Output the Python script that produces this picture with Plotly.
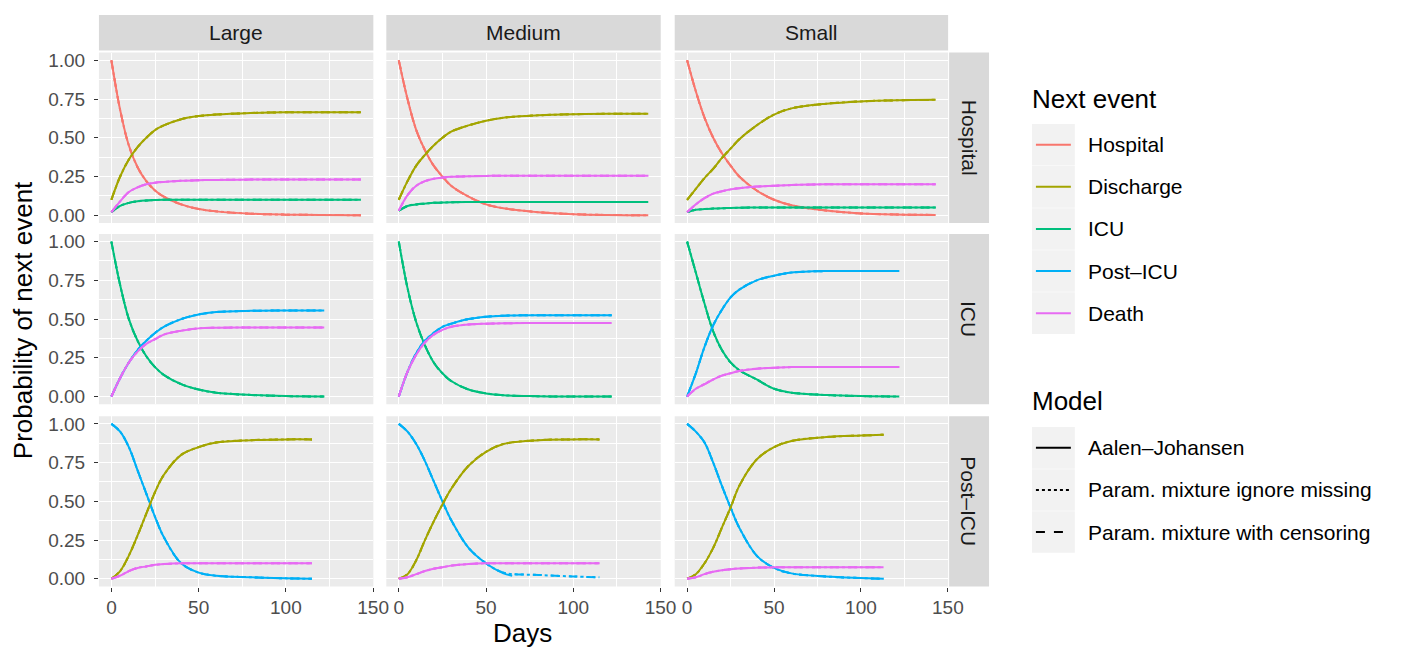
import plotly.graph_objects as go

W, H = 1405, 655
OFF = 8  # page body margin

sizes = ["Large", "Medium", "Small"]
states = ["Hospital", "ICU", "Post\u2013ICU"]
events = ["Hospital", "Discharge", "ICU", "Post\u2013ICU", "Death"]
models = ["Aalen\u2013Johansen", "Param. mixture ignore missing", "Param. mixture with censoring"]
colors = {"Hospital": "#F8766D", "Discharge": "#A3A500", "ICU": "#00BF7D",
          "Post\u2013ICU": "#00B0F6", "Death": "#E76BF3"}
dashes = {models[0]: "solid", models[1]: "dot", models[2]: "dash"}

# knot days per panel
days_hosp = [0, 5, 10, 15, 20, 25, 30, 40, 50, 60, 80, 100, 120, 143]
days_icu = [0, 5, 10, 15, 20, 25, 30, 40, 50, 60, 80, 100, 122]
days_post = [0, 5, 10, 15, 20, 25, 30, 40, 50, 60, 80, 100, 115]
days_post_s = [0, 5, 10, 15, 20, 25, 30, 40, 50, 60, 80, 100, 113]
days_med_post_aj = [0, 5, 10, 15, 20, 25, 30, 40, 50, 60, 65]

# Large
L_h_hosp = [1.0, 0.68, 0.45, 0.31, 0.22, 0.16, 0.12, 0.07, 0.04, 0.025, 0.01, 0.004, 0.002, 0.0]
L_h_dis = [0.1, 0.25, 0.36, 0.44, 0.50, 0.55, 0.58, 0.62, 0.64, 0.65, 0.66, 0.665, 0.665, 0.665]
L_h_icu = [0.02, 0.06, 0.08, 0.09, 0.095, 0.098, 0.1, 0.1, 0.1, 0.1, 0.1, 0.1, 0.1, 0.1]
L_h_death = [0.02, 0.09, 0.15, 0.18, 0.20, 0.21, 0.215, 0.222, 0.226, 0.228, 0.23, 0.23, 0.23, 0.23]
L_i_icu = [1.0, 0.72, 0.5, 0.36, 0.26, 0.19, 0.14, 0.08, 0.045, 0.025, 0.01, 0.003, 0.0]
L_i_post = [0.0, 0.12, 0.22, 0.3, 0.36, 0.41, 0.45, 0.5, 0.53, 0.545, 0.553, 0.555, 0.555]
L_i_death = [0.0, 0.12, 0.22, 0.29, 0.34, 0.37, 0.4, 0.425, 0.44, 0.444, 0.445, 0.445, 0.445]
L_p_post = [1.0, 0.95, 0.85, 0.7, 0.55, 0.4, 0.27, 0.1, 0.04, 0.02, 0.01, 0.003, 0.0]
L_p_dis = [0.0, 0.05, 0.15, 0.28, 0.42, 0.56, 0.67, 0.8, 0.85, 0.88, 0.895, 0.9, 0.9]
L_p_death = [0.0, 0.02, 0.05, 0.07, 0.08, 0.09, 0.095, 0.1, 0.1, 0.1, 0.1, 0.1, 0.1]

# Medium
M_h_hosp = [1.0, 0.75, 0.55, 0.42, 0.32, 0.25, 0.19, 0.12, 0.07, 0.045, 0.02, 0.007, 0.002, 0.0]
M_h_dis = [0.1, 0.22, 0.32, 0.39, 0.45, 0.5, 0.54, 0.58, 0.61, 0.63, 0.645, 0.652, 0.655, 0.655]
M_h_icu = [0.03, 0.06, 0.07, 0.075, 0.08, 0.082, 0.084, 0.085, 0.085, 0.085, 0.085, 0.085, 0.085, 0.085]
M_h_death = [0.03, 0.13, 0.19, 0.22, 0.235, 0.243, 0.248, 0.252, 0.254, 0.255, 0.255, 0.255, 0.255, 0.255]
M_i_icu = [1.0, 0.7, 0.48, 0.33, 0.22, 0.15, 0.1, 0.045, 0.02, 0.008, 0.002, 0.0, 0.0]
M_i_post = [0.0, 0.16, 0.28, 0.36, 0.41, 0.45, 0.47, 0.5, 0.515, 0.522, 0.525, 0.525, 0.525]
M_i_death = [0.0, 0.16, 0.27, 0.35, 0.4, 0.43, 0.45, 0.465, 0.47, 0.473, 0.475, 0.475, 0.475]
M_p_post = [1.0, 0.95, 0.87, 0.76, 0.63, 0.5, 0.38, 0.2, 0.1, 0.04, 0.025, 0.015, 0.01]
M_p_post_aj = [1.0, 0.95, 0.87, 0.76, 0.63, 0.5, 0.38, 0.2, 0.1, 0.035, 0.02]
M_p_dis = [0.0, 0.03, 0.12, 0.25, 0.37, 0.48, 0.58, 0.73, 0.82, 0.87, 0.895, 0.9, 0.9]
M_p_death = [0.0, 0.01, 0.03, 0.05, 0.065, 0.075, 0.085, 0.095, 0.1, 0.1, 0.1, 0.1, 0.1]

# Small
S_h_hosp = [1.0, 0.8, 0.63, 0.5, 0.4, 0.32, 0.25, 0.16, 0.1, 0.065, 0.03, 0.012, 0.005, 0.002]
S_h_dis = [0.1, 0.17, 0.24, 0.3, 0.37, 0.43, 0.49, 0.58, 0.65, 0.69, 0.72, 0.735, 0.742, 0.745]
S_h_icu = [0.02, 0.035, 0.04, 0.043, 0.045, 0.047, 0.048, 0.05, 0.05, 0.05, 0.05, 0.05, 0.05, 0.05]
S_h_death = [0.02, 0.07, 0.11, 0.14, 0.155, 0.167, 0.175, 0.185, 0.19, 0.195, 0.2, 0.2, 0.2, 0.2]
S_i_icu = [1.0, 0.8, 0.6, 0.42, 0.3, 0.22, 0.17, 0.11, 0.05, 0.025, 0.01, 0.003, 0.0]
S_i_post = [0.0, 0.15, 0.32, 0.46, 0.56, 0.64, 0.69, 0.75, 0.78, 0.8, 0.81, 0.81, 0.81]
S_i_death = [0.0, 0.05, 0.08, 0.11, 0.135, 0.15, 0.165, 0.18, 0.185, 0.19, 0.19, 0.19, 0.19]
S_p_post = [1.0, 0.95, 0.88, 0.75, 0.6, 0.46, 0.33, 0.15, 0.07, 0.035, 0.015, 0.005, 0.0]
S_p_dis = [0.0, 0.03, 0.1, 0.2, 0.33, 0.46, 0.6, 0.77, 0.85, 0.89, 0.915, 0.925, 0.93]
S_p_death = [0.0, 0.01, 0.03, 0.045, 0.055, 0.062, 0.067, 0.072, 0.074, 0.075, 0.075, 0.075, 0.075]

panels = {
    (0, 0): [("Hospital", days_hosp, L_h_hosp), ("Discharge", days_hosp, L_h_dis),
             ("ICU", days_hosp, L_h_icu), ("Death", days_hosp, L_h_death)],
    (0, 1): [("Hospital", days_hosp, M_h_hosp), ("Discharge", days_hosp, M_h_dis),
             ("ICU", days_hosp, M_h_icu), ("Death", days_hosp, M_h_death)],
    (0, 2): [("Hospital", days_hosp, S_h_hosp), ("Discharge", days_hosp, S_h_dis),
             ("ICU", days_hosp, S_h_icu), ("Death", days_hosp, S_h_death)],
    (1, 0): [("ICU", days_icu, L_i_icu), ("Post\u2013ICU", days_icu, L_i_post), ("Death", days_icu, L_i_death)],
    (1, 1): [("ICU", days_icu, M_i_icu), ("Post\u2013ICU", days_icu, M_i_post), ("Death", days_icu, M_i_death)],
    (1, 2): [("ICU", days_icu, S_i_icu), ("Post\u2013ICU", days_icu, S_i_post), ("Death", days_icu, S_i_death)],
    (2, 0): [("Post\u2013ICU", days_post, L_p_post), ("Discharge", days_post, L_p_dis), ("Death", days_post, L_p_death)],
    (2, 1): [("Post\u2013ICU", days_post, M_p_post), ("Discharge", days_post, M_p_dis), ("Death", days_post, M_p_death)],
    (2, 2): [("Post\u2013ICU", days_post_s, S_p_post), ("Discharge", days_post_s, S_p_dis), ("Death", days_post_s, S_p_death)],
}
# where the Aalen-Johansen curve stops earlier than the param. curves
aj_override = {(2, 1, "Post\u2013ICU"): (days_med_post_aj, M_p_post_aj)}

FW, FH = W - 2 * OFF, H - 2 * OFF
col_px = [(100, 375), (388, 663), (677, 951)]
row_px = [(50, 222), (233, 405), (417, 589)]
px2x = lambda p: ((p - 0.94) / 0.9906 - OFF) / FW
px2y = lambda p: 1 - (p - OFF) / FH

fig = go.Figure()
layout = {}
font = "Liberation Sans, Arial, sans-serif"
for r in range(3):
    for c in range(3):
        k = r * 3 + c + 1
        xa = "xaxis" if k == 1 else f"xaxis{k}"
        ya = "yaxis" if k == 1 else f"yaxis{k}"
        layout[xa] = dict(domain=[px2x(col_px[c][0]), px2x(col_px[c][1])], range=[-7.15, 150.15],
                          anchor=f"y{k if k > 1 else ''}", tickvals=[0, 50, 100, 150],
                          showticklabels=(r == 2), ticks="outside" if r == 2 else "", ticklen=4,
                          tickcolor="#333", gridcolor="white", gridwidth=1.3, zeroline=False,
                          minor=dict(tickvals=[25, 75, 125], showgrid=True, gridcolor="white", gridwidth=0.6),
                          tickfont=dict(size=19, color="#4D4D4D"), fixedrange=True)
        layout[ya] = dict(domain=[px2y(row_px[r][1]), px2y(row_px[r][0])], range=[-0.05, 1.05],
                          anchor=f"x{k if k > 1 else ''}", tickvals=[0, 0.25, 0.5, 0.75, 1.0],
                          ticktext=["0.00", "0.25", "0.50", "0.75", "1.00"],
                          showticklabels=(c == 0), ticks="outside" if c == 0 else "", ticklen=4,
                          ticklabelstandoff=5,
                          tickcolor="#333", gridcolor="white", gridwidth=1.3, zeroline=False,
                          minor=dict(tickvals=[0.125, 0.375, 0.625, 0.875], showgrid=True,
                                     gridcolor="white", gridwidth=0.6),
                          tickfont=dict(size=19, color="#4D4D4D"), fixedrange=True)
        xr = f"x{k if k > 1 else ''}"
        yr = f"y{k if k > 1 else ''}"
        for ev, d, v in panels[(r, c)]:
            for m in models[::-1]:
                dd, vv = (d, v)
                if m == models[0] and (r, c, ev) in aj_override:
                    dd, vv = aj_override[(r, c, ev)]
                fig.add_trace(go.Scatter(x=dd, y=vv, mode="lines", xaxis=xr, yaxis=yr,
                                         line=dict(color=colors[ev], dash=dashes[m], width=2, shape="spline"),
                                         showlegend=False, hoverinfo="skip"))

shapes = []
annotations = []
for c, s in enumerate(sizes):
    x0, x1 = col_px[c]
    shapes.append(dict(type="rect", xref="paper", yref="paper", x0=px2x(x0), x1=px2x(x1),
                       y0=px2y(48), y1=px2y(12), fillcolor="#D9D9D9", line_width=0, layer="below"))
    annotations.append(dict(text=s, xref="paper", yref="paper", x=px2x((x0 + x1) / 2), y=px2y(30),
                            xanchor="center", yanchor="middle",
                            showarrow=False, font=dict(size=21, color="#1A1A1A")))
for r, s in enumerate(states):
    y0, y1 = row_px[r]
    shapes.append(dict(type="rect", xref="paper", yref="paper", x0=px2x(952), x1=px2x(992),
                       y0=px2y(y1), y1=px2y(y0), fillcolor="#D9D9D9", line_width=0, layer="below"))
    annotations.append(dict(text=s, xref="paper", yref="paper", x=px2x(972), y=px2y((y0 + y1) / 2),
                            xanchor="center", yanchor="middle",
                            showarrow=False, textangle=90, font=dict(size=21, color="#1A1A1A")))
for c in range(3):
    for r in range(3):
        shapes.append(dict(type="rect", xref="paper", yref="paper", x0=px2x(col_px[c][0]), x1=px2x(col_px[c][1]),
                           y0=px2y(row_px[r][1]), y1=px2y(row_px[r][0]), fillcolor="#EBEBEB",
                           line_width=0, layer="below"))
annotations.append(dict(text="Days", xref="paper", yref="paper", x=px2x(524), y=px2y(636),
                        xanchor="center", yanchor="middle",
                        showarrow=False, font=dict(size=26, color="black")))
annotations.append(dict(text="Probability of next event", xref="paper", yref="paper", x=px2x(24),
                        y=px2y(320), xanchor="center", yanchor="middle",
                        showarrow=False, textangle=-90, font=dict(size=26, color="black")))

# legend drawn by hand (ggplot spacing)
def legend_block(title, title_y, items, y_first, styles):
    annotations.append(dict(text=title, xref="paper", yref="paper", x=px2x(1033), y=px2y(title_y),
                            xanchor="left", yanchor="middle", showarrow=False,
                            font=dict(size=26, color="black")))
    for i, (name, (col, dash)) in enumerate(zip(items, styles)):
        yc = y_first + i * 42.5
        shapes.append(dict(type="rect", xref="paper", yref="paper", x0=px2x(1035), x1=px2x(1078),
                           y0=px2y(yc + 21), y1=px2y(yc - 21), fillcolor="#F2F2F2", line_width=0))
        shapes.append(dict(type="line", xref="paper", yref="paper", x0=px2x(1039), x1=px2x(1074),
                           y0=px2y(yc), y1=px2y(yc), line=dict(color=col, dash=dash, width=2)))
        annotations.append(dict(text=name, xref="paper", yref="paper", x=px2x(1089), y=px2y(yc),
                                xanchor="left", yanchor="middle", showarrow=False,
                                font=dict(size=21, color="black")))

legend_block("Next event", 97, events, 143, [(colors[e], "solid") for e in events])
legend_block("Model", 402, models, 449, [("black", dashes[m]) for m in models])

fig.update_layout(width=FW, height=FH, margin=dict(l=0, r=0, t=0, b=0), plot_bgcolor="white",
                  paper_bgcolor="white", font=dict(family=font, color="black"),
                  shapes=shapes, annotations=annotations, showlegend=False, **layout)
fig.write_html("out.html")
